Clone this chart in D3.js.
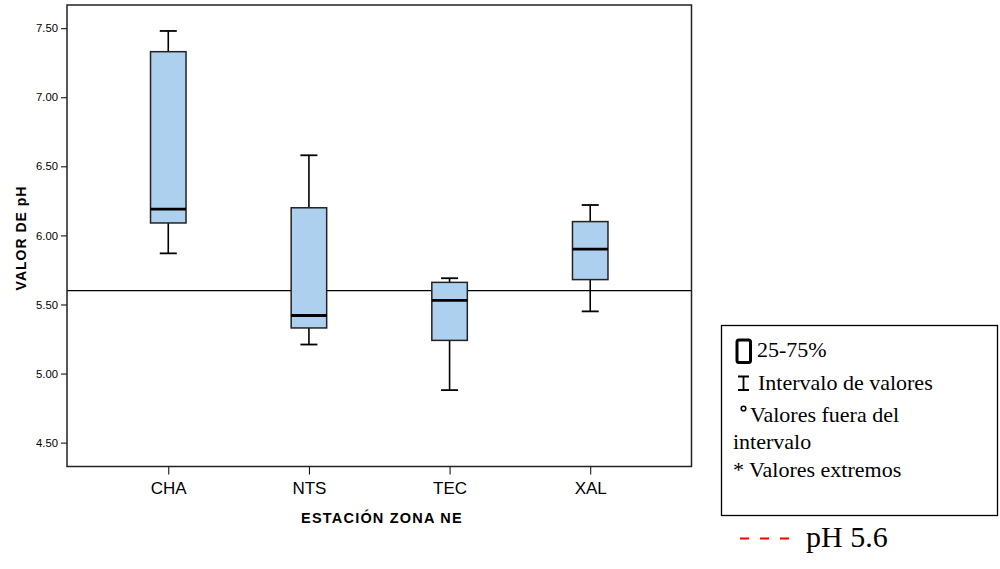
<!DOCTYPE html>
<html>
<head>
<meta charset="utf-8">
<script src="https://cdn.jsdelivr.net/npm/d3@7"></script>
<style>
  html, body { margin: 0; padding: 0; background: #fff; }
  svg { display: block; }
</style>
</head>
<body>
<svg id="chart" width="1000" height="569"></svg>
<script>
// ---- data ----
const categories = ["CHA", "NTS", "TEC", "XAL"];
const whiskerLow  = [5.87, 5.21, 4.88, 5.45];
const q1Values    = [6.09, 5.33, 5.24, 5.68];
const medians     = [6.19, 5.42, 5.53, 5.90];
const q3Values    = [7.33, 6.20, 5.66, 6.10];
const whiskerHigh = [7.48, 6.58, 5.69, 6.22];
const yTicks = [4.5, 5.0, 5.5, 6.0, 6.5, 7.0, 7.5];
const referenceValue = 5.6;
const legendLines = ["25-75%", "Intervalo de valores", "Valores fuera del", "intervalo", "* Valores extremos"];

const svg = d3.select("#chart");
const L = 67, R = 691.5, T = 5, B = 466.5;

const x = d3.scalePoint().domain(categories).range([L, R]).padding(0.72);
const y = d3.scaleLinear().domain([4.327, 7.668]).range([B, T]);

// axes
const yAxis = d3.axisLeft(y).tickValues(yTicks).tickFormat(d3.format(".2f")).tickSize(6).tickSizeOuter(0);
const gy = svg.append("g").attr("transform", `translate(${L},0)`).call(yAxis);
gy.select(".domain").remove();
gy.selectAll("text").attr("font-family", "Arial, 'Liberation Sans', sans-serif").attr("font-size", "11.3px").attr("fill", "#000").attr("x", -9);
gy.selectAll("line").attr("stroke", "#000");

const xAxis = d3.axisBottom(x).tickSize(8).tickSizeOuter(0);
const gx = svg.append("g").attr("transform", `translate(0,${B})`).call(xAxis);
gx.select(".domain").remove();
gx.selectAll("text").attr("font-family", "Arial, 'Liberation Sans', sans-serif").attr("font-size", "17px").attr("fill", "#000").attr("dy", null).attr("y", 27.5);
gx.selectAll("line").attr("stroke", "#000");

// titles
svg.append("text")
  .attr("transform", `translate(26,${238}) rotate(-90)`)
  .attr("text-anchor", "middle")
  .attr("font-family", "Arial, 'Liberation Sans', sans-serif")
  .attr("font-weight", "bold").attr("font-size", "14px").attr("letter-spacing", "1px")
  .text("VALOR DE pH");

svg.append("text")
  .attr("x", 382).attr("y", 523)
  .attr("text-anchor", "middle")
  .attr("font-family", "Arial, 'Liberation Sans', sans-serif")
  .attr("font-weight", "bold").attr("font-size", "14.5px").attr("letter-spacing", "1.2px")
  .text("ESTACIÓN ZONA NE");

// reference line
svg.append("line")
  .attr("x1", L).attr("x2", R)
  .attr("y1", y(referenceValue)).attr("y2", y(referenceValue))
  .attr("stroke", "#000").attr("stroke-width", 1.2);

// boxes
const boxW = 35.5, capW = 17;
const data = categories.map((c, i) => ({
  c, lo: whiskerLow[i], q1: q1Values[i], med: medians[i], q3: q3Values[i], hi: whiskerHigh[i]
}));
const g = svg.append("g").selectAll("g").data(data).join("g");
// whisker stems
g.append("line").attr("x1", d => x(d.c)).attr("x2", d => x(d.c))
  .attr("y1", d => y(d.hi)).attr("y2", d => y(d.q3)).attr("stroke", "#000").attr("stroke-width", 1.6);
g.append("line").attr("x1", d => x(d.c)).attr("x2", d => x(d.c))
  .attr("y1", d => y(d.q1)).attr("y2", d => y(d.lo)).attr("stroke", "#000").attr("stroke-width", 1.6);
// caps
g.append("line").attr("x1", d => x(d.c) - capW / 2).attr("x2", d => x(d.c) + capW / 2)
  .attr("y1", d => y(d.hi)).attr("y2", d => y(d.hi)).attr("stroke", "#000").attr("stroke-width", 1.8);
g.append("line").attr("x1", d => x(d.c) - capW / 2).attr("x2", d => x(d.c) + capW / 2)
  .attr("y1", d => y(d.lo)).attr("y2", d => y(d.lo)).attr("stroke", "#000").attr("stroke-width", 1.8);
// box
g.append("rect")
  .attr("x", d => x(d.c) - boxW / 2).attr("width", boxW)
  .attr("y", d => y(d.q3)).attr("height", d => y(d.q1) - y(d.q3))
  .attr("fill", "#aed0ef").attr("stroke", "#222").attr("stroke-width", 1.5);
// median
g.append("line").attr("x1", d => x(d.c) - boxW / 2).attr("x2", d => x(d.c) + boxW / 2)
  .attr("y1", d => y(d.med)).attr("y2", d => y(d.med)).attr("stroke", "#000").attr("stroke-width", 2.8);

// frame
svg.append("rect").attr("x", L).attr("y", T).attr("width", R - L).attr("height", B - T)
  .attr("fill", "none").attr("stroke", "#222").attr("stroke-width", 1.5);

// legend
const serif = "'Liberation Serif', 'Times New Roman', serif";
svg.append("rect").attr("x", 721.5).attr("y", 325.5).attr("width", 276).attr("height", 190)
  .attr("fill", "none").attr("stroke", "#000").attr("stroke-width", 1.3);
svg.append("rect").attr("x", 737).attr("y", 340).attr("width", 13.5).attr("height", 22.5).attr("rx", 2)
  .attr("fill", "none").attr("stroke", "#000").attr("stroke-width", 3);
svg.append("path").attr("d", "M738,376.5H749M743.5,376.5V390M738,390H749")
  .attr("fill", "none").attr("stroke", "#000").attr("stroke-width", 1.8);
svg.append("circle").attr("cx", 743.5).attr("cy", 408.5).attr("r", 2.3)
  .attr("fill", "none").attr("stroke", "#000").attr("stroke-width", 1.6);

const legendPos = [[757, 357], [758, 390], [750, 421.5], [733, 449], [733, 477]];
svg.append("g").selectAll("text").data(legendLines).join("text")
  .attr("x", (d, i) => legendPos[i][0]).attr("y", (d, i) => legendPos[i][1])
  .attr("font-family", serif).attr("font-size", "22px").attr("fill", "#000")
  .text(d => d);

// pH 5.6 key
svg.append("line").attr("x1", 740).attr("x2", 790).attr("y1", 538.5).attr("y2", 538.5)
  .attr("stroke", "#f00").attr("stroke-width", 2).attr("stroke-dasharray", "9,11");
svg.append("text").attr("x", 806).attr("y", 547)
  .attr("font-family", serif).attr("font-size", "30px").attr("fill", "#000")
  .text("pH " + referenceValue.toFixed(1));
</script>
</body>
</html>
